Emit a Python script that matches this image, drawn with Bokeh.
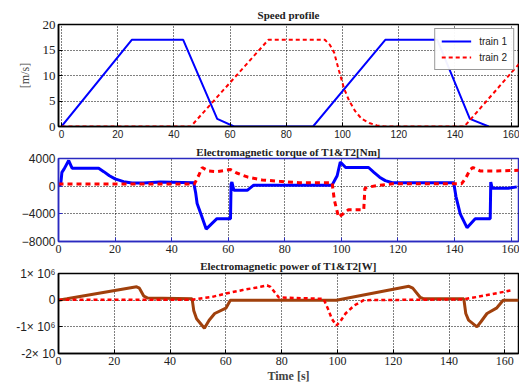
from bokeh.plotting import figure
from bokeh.layouts import column
from bokeh.models import FixedTicker, Range1d, Legend, LegendItem
from bokeh.embed import file_html
from bokeh.resources import INLINE

# ---- data ----
ticks_x = [0, 20, 40, 60, 80, 100, 120, 140, 160]

speed1_t = [0, 25, 43.3, 55.4, 61.4, 89.5, 115.2, 133.7, 145.3, 152]
speed1_v = [0, 17, 17, 1.5, 0, 0, 17, 17, 1.5, 0]
speed2_t = [0, 46, 73.6, 93.7, 95.5, 97, 98.7, 100.5, 102.3, 104.5, 106.8, 109.5, 112.2, 115, 143.3, 163.8]
speed2_v = [0, 0, 17, 17, 16, 14.5, 11, 7.5, 5.1, 3, 1.5, 0.7, 0.2, 0, 0, 12.9]

torque1_t = [0, 0.8, 1.2, 2.0, 3.6, 4.8, 14.2, 16, 18, 20, 23, 26, 30, 36, 47.8, 48.5, 49, 50.5, 52.2,
             56, 60.8, 61.0, 61.3, 62, 66.7, 69, 96.7, 98.5, 99.6, 101.5, 109.6, 111.5, 113.5, 115.5,
             118, 122, 139.7, 140.5, 142, 144.4, 147.3, 152.6, 152.8, 153.3, 159, 162]
torque1_v = [0, 300, 2000, 2500, 3700, 2600, 2600, 2100, 1500, 1050, 650, 450, 450, 600, 500, -1000,
             -2500, -4200, -6200, -4700, -4700, 300, 600, -600, -600, 150, 150, 1500, 3500, 2700, 2700,
             2000, 1300, 800, 500, 500, 500, -1500, -4000, -6000, -4700, -4700, 600, -300, -300, -100]
torque2_t = [0, 48, 49.5, 50.8, 53, 56, 60.8, 63, 67, 72, 78, 85, 96.7, 97.5, 99, 102.5, 107.9, 108.3,
             110, 113, 118, 142.5, 144, 145.5, 146.5, 149, 155, 163]
torque2_v = [300, 300, 1500, 2700, 2200, 2100, 2400, 1900, 1300, 900, 700, 500, 500, -2000, -4500,
             -3400, -3400, -300, -100, 100, 350, 350, 1200, 2400, 2700, 2200, 2200, 2300]

power1_t = [0, 3, 28, 29, 30.6, 32, 47.9, 48.5, 49.5, 52.3, 54, 56, 60, 61.6, 99.6, 125.6, 127, 129.7,
            131, 145.3, 146, 147, 150, 151.5, 153.6, 157, 159.4, 165]
power1_v = [0, 0.05e6, 0.5e6, 0.45e6, 0.15e6, 0.08e6, 0.05e6, -0.4e6, -0.7e6, -1.05e6, -0.75e6, -0.5e6,
            -0.3e6, 0, 0, 0.52e6, 0.45e6, 0.1e6, 0.05e6, 0.05e6, -0.5e6, -0.75e6, -1.0e6, -0.8e6,
            -0.5e6, -0.3e6, 0, 0]
power2_t = [0, 48, 55, 60, 66, 72.4, 74.8, 76, 77.5, 79, 95, 96.5, 98, 99.6, 101, 102.9, 106, 109.4,
            145, 150, 155, 162]
power2_v = [0.02e6, 0.02e6, 0.12e6, 0.25e6, 0.38e6, 0.5e6, 0.55e6, 0.5e6, 0.3e6, 0.1e6, 0.05e6,
            -0.3e6, -0.7e6, -0.95e6, -0.8e6, -0.5e6, -0.2e6, 0, 0.03e6, 0.12e6, 0.22e6, 0.36e6]

SERIF = "Liberation Serif"
SANS = "Liberation Sans"


def base(title, height, xr, yr, yticks, top, bottom, frame_col="black", ylab_font=SANS, xlab_font=SERIF,
         xlab_size="12px", ylab_size="12px", title_standoff=1):
    p = figure(width=519, height=height, output_backend="svg", toolbar_location=None,
               x_range=Range1d(*xr), y_range=Range1d(*yr), min_border_left=58, min_border_right=1,
               min_border_top=top, min_border_bottom=bottom, background_fill_color="white",
               border_fill_color="white")
    p.title.text = title
    p.title.text_font = SERIF
    p.title.text_font_style = "bold"
    p.title.text_font_size = "11px"
    p.title.align = "center"
    p.title.text_color = "#222222"
    p.title.standoff = title_standoff
    p.outline_line_color = frame_col
    p.outline_line_width = 1.5
    for ax in (p.xaxis[0], p.yaxis[0]):
        ax.axis_line_color = frame_col
        ax.axis_line_width = 1.5
        ax.major_tick_in = 4
        ax.major_tick_out = 0
        ax.minor_tick_line_color = None
        ax.major_tick_line_color = frame_col
        ax.major_label_standoff = 3
        ax.major_label_text_color = "#222222"
    p.xaxis.ticker = FixedTicker(ticks=ticks_x)
    p.yaxis.ticker = FixedTicker(ticks=yticks)
    p.xaxis.major_label_text_font = xlab_font
    p.xaxis.major_label_text_font_size = xlab_size
    p.yaxis.major_label_text_font = ylab_font
    p.yaxis.major_label_text_font_size = ylab_size
    p.grid.grid_line_color = "black"
    p.grid.grid_line_dash = "1 2"
    p.grid.grid_line_width = 1
    return p


# Panel 1: speed profile
p1 = base("Speed profile", 143, (-1.07, 162.6), (0, 20), [0, 5, 10, 15, 20], 24, 17,
          ylab_font=SERIF, xlab_font=SANS, xlab_size="10px", ylab_size="13px", title_standoff=8)
p1.yaxis.axis_label = "[m/s]"
p1.yaxis.axis_label_text_font = SERIF
p1.yaxis.axis_label_text_font_style = "normal"
p1.yaxis.axis_label_text_font_size = "12px"
p1.yaxis.axis_label_standoff = 8
r1 = p1.line(speed1_t, speed1_v, line_color="#0000ff", line_width=2)
r2 = p1.line(speed2_t, speed2_v, line_color="#ff0000", line_width=2, line_dash="4 3")
leg = Legend(items=[LegendItem(label="train 1", renderers=[r1]),
                    LegendItem(label="train 2", renderers=[r2])],
             location="top_right")
leg.label_text_font = SANS
leg.label_text_font_size = "10px"
leg.label_text_color = "#222222"
leg.border_line_color = "#333333"
leg.border_line_width = 1
leg.glyph_width = 30
leg.glyph_height = 12
leg.label_height = 12
leg.spacing = 4
leg.padding = 6
leg.margin = 4
leg.label_standoff = 8
p1.add_layout(leg)

# Panel 2: torque
p2 = base("Electromagnetic torque of T1&T2[Nm]", 112, (0, 162.6), (-8000, 4000), [-8000, -4000, 0, 4000],
          15, 14, frame_col="#2a2ac0", title_standoff=1)
p2.line(torque1_t, torque1_v, line_color="#0000ff", line_width=3)
p2.line(torque2_t, torque2_v, line_color="#ff0000", line_width=3, line_dash="5 4")

# Panel 3: power
p3 = base("Electromagnetic power of T1&T2[W]", 135, (0, 164.9), (-2e6, 1e6), [-2e6, -1e6, 0, 1e6], 17, 37,
          title_standoff=4)
p3.yaxis.major_label_overrides = {1e6: "1\u00d7 10\u2076", 0: "0", -1e6: "-1\u00d7 10\u2076", -2e6: "-2\u00d7 10"}
p3.xaxis.axis_label = "Time [s]"
p3.xaxis.axis_label_text_font = SERIF
p3.xaxis.axis_label_text_font_style = "bold"
p3.xaxis.axis_label_text_font_size = "12px"
p3.xaxis.axis_label_standoff = 1
p3.line(power1_t, power1_v, line_color="#a0400c", line_width=3)
p3.line(power2_t, power2_v, line_color="#ff0000", line_width=2.5, line_dash="4 3")

layout = column(p1, p2, p3, spacing=0)
open("out.html", "w").write(file_html(layout, INLINE))
